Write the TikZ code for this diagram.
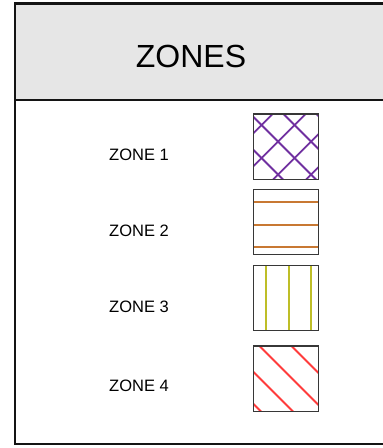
\documentclass[tikz,border=0pt]{standalone}
\usepackage{fontspec}
\setmainfont{Liberation Sans}
\usetikzlibrary{positioning}
\definecolor{hdrgray}{RGB}{230,230,230}
\definecolor{framegray}{RGB}{20,20,20}
\definecolor{zonepurple}{RGB}{112,48,160}
\definecolor{zoneorange}{RGB}{200,120,50}
\definecolor{zoneolive}{RGB}{190,190,40}
\definecolor{zonered}{RGB}{255,60,60}

\begin{document}
\begin{tikzpicture}[x=1pt, y=-1pt,
      frame/.style={draw=framegray, line width=2.6pt},
      title/.style={font=\fontsize{32}{36}\selectfont, text=black},
      lbl/.style={font=\fontsize{16.5}{18}\selectfont, text=black},
      swatch/.style={minimum size=65pt, inner sep=0pt},
      swbox/.style={draw=framegray!85, line width=1.4pt},
      hatch/.style={line width=1.8pt}]
      \useasboundingbox (0,0) rectangle (383,448);
      \begin{scope}
        \clip (0,0) rectangle (383,448);
        \fill[hdrgray] (15,3.5) rectangle (390,100);
        \draw[frame] (15,3.5) rectangle (390,444);
        \draw[frame] (15,100) -- (390,100);
      \end{scope}
      \node[title] (hdr) at (191,56) {ZONES};
      % legend rows
      \foreach \i/\y/\ly in {1/146.5/155, 2/222/231, 3/298/307, 4/378.5/386} {
        \node[lbl] (z\i) at (139,\ly) {ZONE \i};
        \node[swatch] (sw\i) at (286,\y) {};
      }
      % zone 1: cross hatch
      \begin{scope}[shift={(sw1.north west)}]
        \clip (0,0) rectangle (65,65);
        \foreach \c in {19.5,52.5,85.5,118.5}
          \draw[hatch, zonepurple] (\c+5,-5) -- (\c-75,75);
        \foreach \d in {-36,-3,30,63}
          \draw[hatch, zonepurple] (\d-5,-5) -- (\d+75,75);
      \end{scope}
      % zone 2: horizontal
      \begin{scope}[shift={(sw2.north west)}]
        \foreach \h in {13,35.5,58}
          \draw[hatch, zoneorange] (0,\h) -- (65,\h);
      \end{scope}
      % zone 3: vertical
      \begin{scope}[shift={(sw3.north west)}]
        \foreach \h in {13,35.5,58}
          \draw[hatch, zoneolive] (\h,0) -- (\h,65);
      \end{scope}
      % zone 4: diagonal
      \begin{scope}[shift={(sw4.north west)}]
        \clip (0,0) rectangle (65,65);
        \foreach \d in {-58,-26,6,38}
          \draw[hatch, zonered] (\d-5,-5) -- (\d+75,75);
      \end{scope}
      \foreach \i in {1,...,4}
        \draw[swbox] (sw\i.north west) rectangle (sw\i.south east);
    \end{tikzpicture}
\end{document}
